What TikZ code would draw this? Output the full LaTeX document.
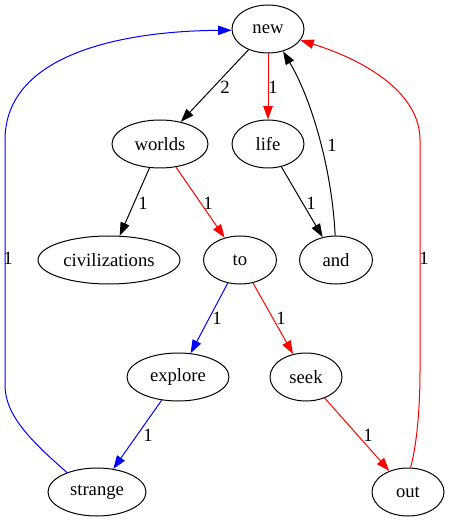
\documentclass[tikz,border=0pt]{standalone}
\usepackage{fontspec}
\setmainfont{Liberation Serif}
\usepackage{tikz}
\usetikzlibrary{shapes.geometric, arrows.meta}

\begin{document}
\begin{tikzpicture}[x=0.75pt, y=-0.75pt,
	font=\fontsize{14}{16}\selectfont,
	word/.style={draw, ellipse, line width=0.75pt, inner sep=0pt, minimum height=36pt},
	edge/.style={line width=0.75pt, -{Triangle[length=10pt,width=7pt]}},
	wt/.style={inner sep=0pt}]

\useasboundingbox (0,0) rectangle (449,523);

% ------------------------------------------------------

\node[word, minimum width=54pt] (new) at (268,29) {new};

\node[word, minimum width=72pt] (worlds) at (160,144) {worlds};
\node[word, minimum width=54pt] (life) at (268,144) {life};

\node[word, minimum width=106.5pt] (civilizations) at (109,260) {civilizations};
\node[word, minimum width=54.75pt] (to) at (240,260) {to};
\node[word, minimum width=54.75pt] (and) at (336,260) {and};

\node[word, minimum width=76.5pt] (explore) at (178,377) {explore};
\node[word, minimum width=54pt] (seek) at (306,377) {seek};

\node[word, minimum width=73.5pt] (strange) at (97,492) {strange};
\node[word, minimum width=54pt] (out) at (408,492) {out};

% ------------------------------------------------------

\draw[edge] (new) -- (worlds);
\node[wt] (w1) at (225,87) {2};

\draw[edge, red] (new) -- (life);
\node[wt] (w2) at (273,87) {1};

\draw[edge] (and.92) .. controls (332,170) and (312,100) .. (new.-56);
\node[wt] (w3) at (332,145) {1};

\draw[edge] (worlds) -- (civilizations);
\node[wt] (w4) at (143,203) {1};

\draw[edge, red] (worlds) -- (to);
\node[wt] (w5) at (208,203) {1};

\draw[edge] (life) -- (and);
\node[wt] (w6) at (311,203) {1};

\draw[edge, blue] (to) -- (explore);
\node[wt] (w7) at (217,318) {1};

\draw[edge, red] (to) -- (seek);
\node[wt] (w8) at (281,318) {1};

\draw[edge, blue] (explore) -- (strange);
\node[wt] (w9) at (148,435) {1};

\draw[edge, red] (seek) -- (out);
\node[wt] (w10) at (368,435) {1};

% ------------------------------------------------------

\draw[edge, blue] (strange.147) .. controls (30,440) and (5,415) .. (5,385)
	-- (5,140) .. controls (5,55) and (120,31) .. (new.182);
\node[wt] (w11) at (8,258) {1};

\draw[edge, red] (out.84) .. controls (418,440) and (420,400) .. (420,370)
	-- (420,140) .. controls (420,95) and (370,62) .. (new.-19);
\node[wt] (w12) at (424,258) {1};

\end{tikzpicture}
\end{document}
